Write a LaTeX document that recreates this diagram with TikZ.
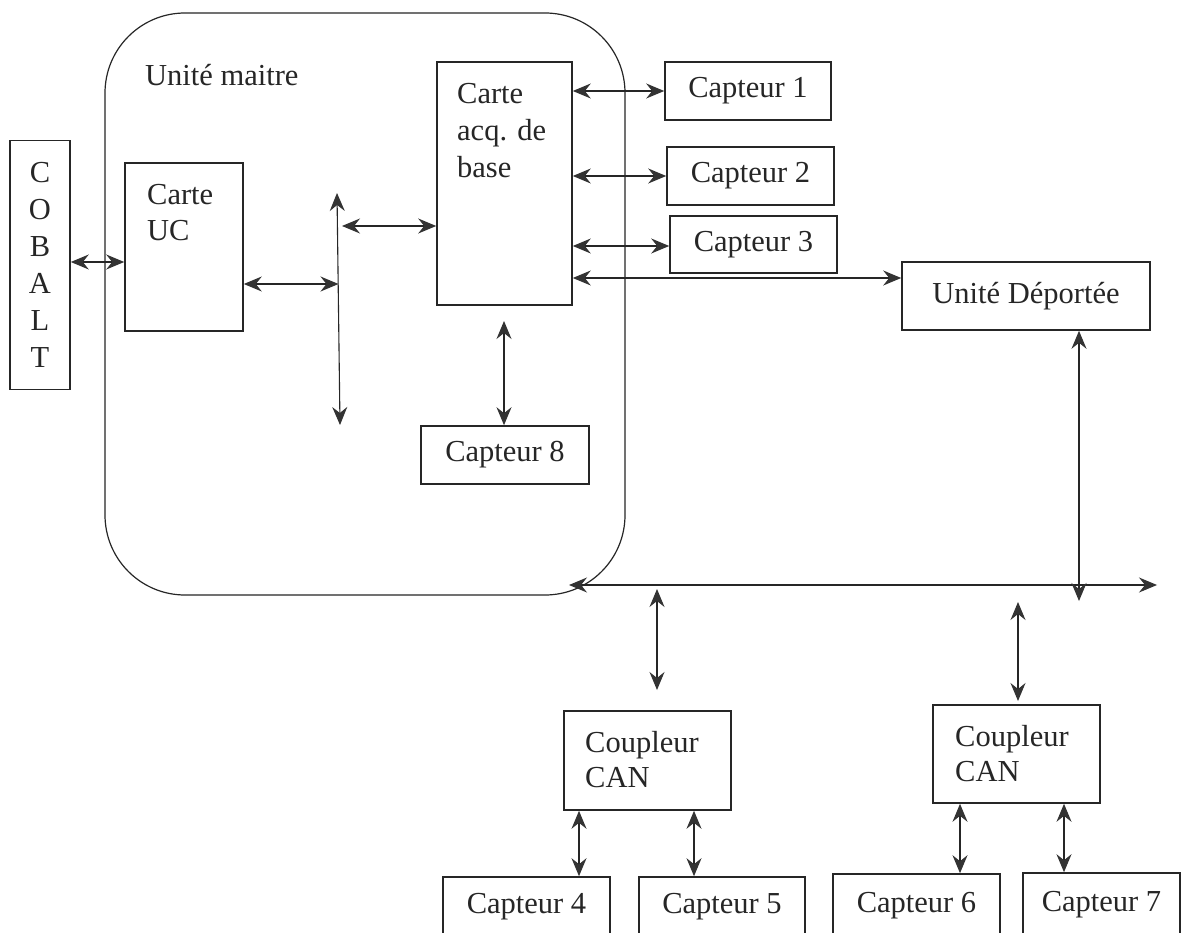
\documentclass[tikz,border=0pt]{standalone}
\usepackage{fontspec}
\setmainfont{Liberation Serif}
\usetikzlibrary{arrows.meta}
\definecolor{ink}{HTML}{262626}
\definecolor{tipc}{HTML}{333333}
\begin{document}
\begin{tikzpicture}[x=1pt,y=-1pt,
  box/.style={draw=ink, line width=1.6pt, inner sep=0pt, font=\fontsize{30.5}{36}\selectfont, text=ink},
  txt/.style={font=\fontsize{30.5}{36}\selectfont, text=ink, inner sep=0pt, align=left},
  bi/.style={draw=ink, line width=1.1pt, {Stealth[length=18pt,width=15pt,inset=6pt,color=tipc]}-{Stealth[length=18pt,width=15pt,inset=6pt,color=tipc]}}
]
\useasboundingbox (0,0) rectangle (1183,933);
\fill[white] (0,0) rectangle (1183,933);

% master unit
\node[draw=ink, line width=1.2pt, rounded corners=80pt, minimum width=520pt, minimum height=582pt, inner sep=0pt] (um) at (365,304) {};
\node[txt, anchor=west] (umlab) at (145,75) {Unité maitre};

% COBALT
\node[box, minimum width=60pt, minimum height=249pt, align=center, font=\fontsize{30.5}{37}\selectfont] (cob) at (40,265) {C\\O\\B\\A\\L\\T};

% Carte UC
\node[box, minimum width=118pt, minimum height=168pt] (uc) at (184,247) {};
\node[txt, anchor=north west] (uctxt) at (147,184) {Carte\\UC};

% Carte acq
\node[box, minimum width=135pt, minimum height=243pt] (acq) at (504.5,183.5) {};
\node[txt, anchor=north west, font=\fontsize{30.5}{37}\selectfont] (acqtxt) at (457,83) {Carte\\acq. de\\base};

% Capteurs
\node[box, minimum width=166pt, minimum height=58pt] (c1) at (748,91) {Capteur 1};
\node[box, minimum width=167pt, minimum height=58pt] (c2) at (750.5,176) {Capteur 2};
\node[box, minimum width=167pt, minimum height=57pt] (c3) at (753.5,244.5) {Capteur 3};
\node[box, minimum width=168pt, minimum height=58pt] (c8) at (505,455) {Capteur 8};
\node[box, minimum width=167pt, minimum height=60pt] (c4) at (526.5,907) {Capteur 4};
\node[box, minimum width=166pt, minimum height=60pt] (c5) at (722,907) {Capteur 5};
\node[box, minimum width=167pt, minimum height=64pt] (c6) at (916.5,906) {Capteur 6};
\node[box, minimum width=157pt, minimum height=64pt] (c7) at (1101.5,905) {Capteur 7};

% Unite deportee
\node[box, minimum width=248pt, minimum height=68pt] (ud) at (1026,296) {Unité Déportée};

% Coupleurs
\node[box, minimum width=167pt, minimum height=99pt] (cp1) at (647.5,760.5) {};
\node[txt, anchor=north west, font=\fontsize{30.5}{35}\selectfont] (cp1txt) at (585,731) {Coupleur\\CAN};
\node[box, minimum width=167pt, minimum height=98pt] (cp2) at (1016.5,754) {};
\node[txt, anchor=north west, font=\fontsize{30.5}{35}\selectfont] (cp2txt) at (955,725) {Coupleur\\CAN};

% internal bus
\coordinate (bt) at (337,193);
\coordinate (bb) at (340,425);
\coordinate (busA) at (338.5,284);
\coordinate (busB) at (342,226);
\coordinate (cobL) at (73,262);
\draw[bi] (bt) -- (bb);
\draw[bi] (cob.east |- cobL) -- (uc.west |- cobL);
\draw[bi] (uc.east |- busA) -- (busA);
\draw[bi] (busB) -- (acq.west |- busB);

% acquisition links
\coordinate (udL) at (900,278);
\draw[bi] (acq.east |- c1.west) -- (c1.west);
\draw[bi] (acq.east |- c2.west) -- (c2.west);
\draw[bi] ([yshift=-1.5pt]acq.east |- c3.west) -- ([yshift=-1.5pt]c3.west);
\draw[bi] (acq.east |- udL) -- (ud.west |- udL);
\coordinate (c8t) at (504,321);
\draw[bi] (c8t) -- (c8t |- c8.north);

% field bus
\coordinate (hbL) at (569,585);
\coordinate (hbR) at (1157,585);
\draw[bi] (hbL) -- (hbR);
\coordinate (udB) at (1079,601);
\draw[bi] (udB |- ud.south) -- (udB);
\coordinate (k1t) at (657,589);
\coordinate (k1b) at (657,690);
\draw[bi] (k1t) -- (k1b);
\coordinate (k2t) at (1018,602);
\coordinate (k2b) at (1018,701);
\draw[bi] (k2t) -- (k2b);

% coupler to sensors
\coordinate (a4) at (579,0);
\coordinate (a5) at (694,0);
\coordinate (a6) at (960,0);
\coordinate (a7) at (1064,0);
\draw[bi] (cp1.south -| a4) -- (c4.north -| a4);
\draw[bi] (cp1.south -| a5) -- (c5.north -| a5);
\draw[bi] (cp2.south -| a6) -- (c6.north -| a6);
\draw[bi] (cp2.south -| a7) -- (c7.north -| a7);
\end{tikzpicture}
\end{document}
